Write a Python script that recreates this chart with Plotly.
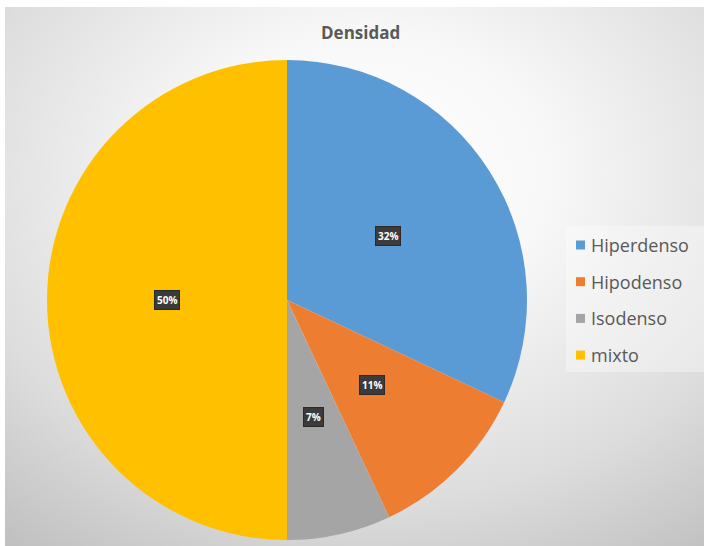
import base64
import numpy as np
import plotly.graph_objects as go

# Category shares of the "Densidad" variable
categories = ["Hiperdenso", "Hipodenso", "Isodenso", "mixto"]
shares = [32, 11, 7, 50]
colors = ["#5B9BD5", "#ED7D31", "#A5A5A5", "#FFC000"]

W, H = 704, 546

# Pie placement in pixels (centre and radius)
cx, cy, r = 287, 300, 240

# Radial grey background of the chart area
bg_svg = """<svg xmlns='http://www.w3.org/2000/svg' width='699' height='539' viewBox='0 0 699 539'>
<defs><radialGradient id='g' cx='0.52' cy='0.33' r='0.85' fx='0.52' fy='0.30'>
<stop offset='0' stop-color='#ffffff'/>
<stop offset='0.30' stop-color='#f8f8f8'/>
<stop offset='0.70' stop-color='#dddddd'/>
<stop offset='1' stop-color='#bfbfbf'/>
</radialGradient></defs>
<rect width='699' height='539' fill='url(#g)'/>
</svg>"""
bg_uri = "data:image/svg+xml;base64," + base64.b64encode(bg_svg.encode()).decode()

fig = go.Figure(
    go.Pie(
        labels=categories,
        values=shares,
        sort=False,
        direction="clockwise",
        rotation=0,
        marker=dict(colors=colors, line=dict(width=0)),
        textinfo="none",
        hoverinfo="label+percent",
        showlegend=False,
        domain=dict(
            x=[(cx - r) / W, (cx + r) / W],
            y=[1 - (cy + r) / H, 1 - (cy - r) / H],
        ),
    )
)

# Data labels at half radius along each slice's mid-angle
vals = np.array(shares, dtype=float)
frac = vals / vals.sum()
mid = (np.cumsum(frac) - frac / 2) * 2 * np.pi
annotations = []
for f, a in zip(frac, mid):
    px = cx + 0.5 * r * np.sin(a)
    py = cy - 0.5 * r * np.cos(a)
    annotations.append(
        dict(
            x=px / W, y=1 - py / H, xref="paper", yref="paper",
            xanchor="center", yanchor="middle",
            text=f"<b>{round(f * 100)}%</b>", showarrow=False,
            font=dict(family="Open Sans", size=10, color="#ffffff"),
            bgcolor="#3b3b3b", bordercolor="#2a2a2a", borderwidth=1, borderpad=2,
        )
    )

# Title
annotations.append(
    dict(
        x=360 / W, y=1 - 32 / H, xref="paper", yref="paper",
        xanchor="center", yanchor="middle",
        text="<b>Densidad</b>", showarrow=False,
        font=dict(family="Open Sans", size=17, color="#595959"),
    )
)

# Legend: coloured squares with labels
shapes = [
    dict(type="rect", xref="paper", yref="paper",
         x0=566 / W, x1=1.0, y0=1 - 372 / H, y1=1 - 226 / H,
         fillcolor="rgba(255,255,255,0.35)", line=dict(width=0), layer="below"),
]
leg_top, leg_step = 245, 36.7
for i, (name, col) in enumerate(zip(categories, colors)):
    yc = leg_top + i * leg_step
    shapes.append(
        dict(type="rect", xref="paper", yref="paper",
             x0=576 / W, x1=585 / W, y0=1 - (yc + 4.5) / H, y1=1 - (yc - 4.5) / H,
             fillcolor=col, line=dict(width=0))
    )
    annotations.append(
        dict(x=589 / W, y=1 - yc / H, xref="paper", yref="paper",
             xanchor="left", yanchor="middle", text=name, showarrow=False,
             font=dict(family="Open Sans", size=18, color="#595959"))
    )

fig.update_layout(
    width=W, height=H,
    margin=dict(l=0, r=0, t=0, b=0),
    paper_bgcolor="#ffffff",
    images=[dict(source=bg_uri, xref="paper", yref="paper",
                 x=5 / W, y=1 - 7 / H, sizex=1 - 5 / W, sizey=1 - 7 / H,
                 xanchor="left", yanchor="top", sizing="stretch", layer="below")],
    shapes=shapes,
    annotations=annotations,
)

fig.write_html("out.html")
